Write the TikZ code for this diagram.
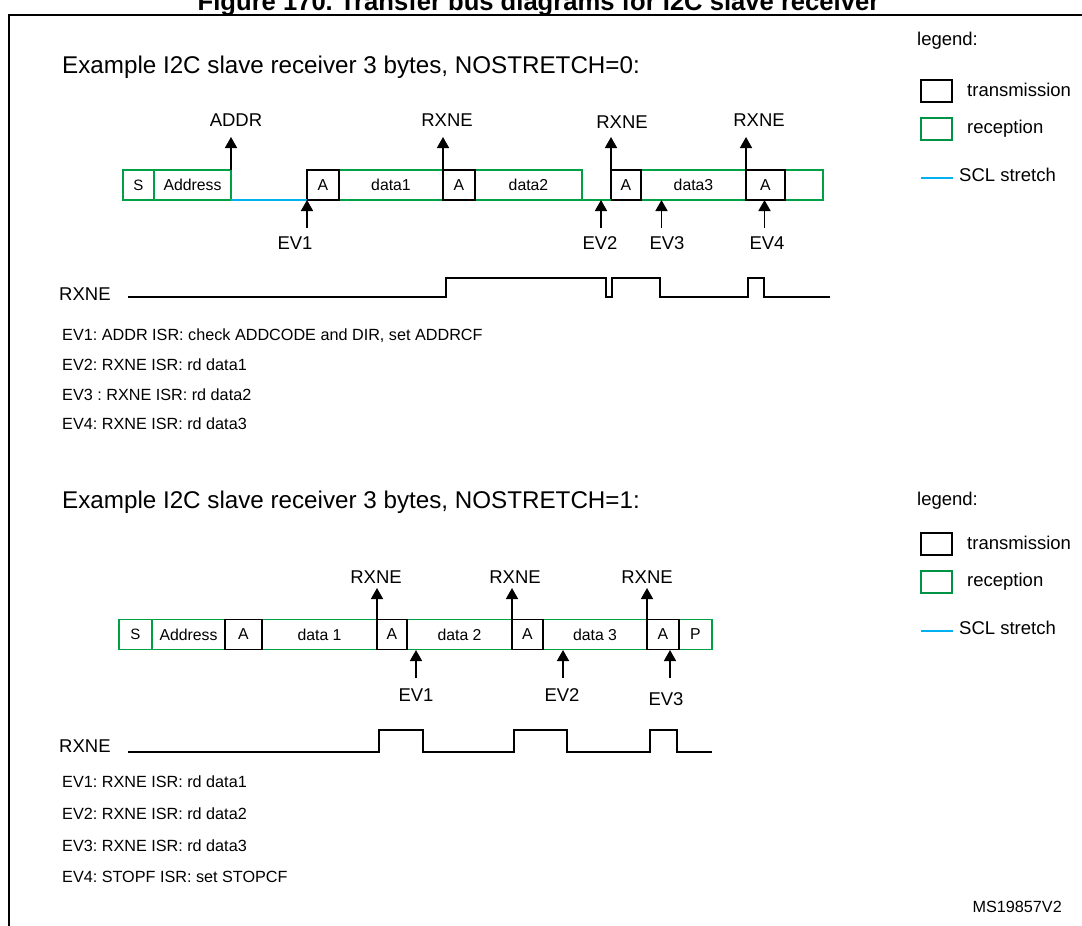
\documentclass[tikz,border=0pt]{standalone}
\usepackage{fontspec}
\setmainfont{Liberation Sans}
\usetikzlibrary{arrows.meta}
\frenchspacing
\definecolor{rxgreen}{RGB}{0,160,70}
\definecolor{lgreen}{RGB}{0,146,69}
\definecolor{sclblue}{RGB}{0,176,240}
\newcommand{\fbig}{\fontsize{24.2}{29}\selectfont}
\newcommand{\fmid}{\fontsize{18.5}{22}\selectfont}
\newcommand{\fbus}{\fontsize{15.8}{19}\selectfont}
\newcommand{\fsmall}{\fontsize{16.2}{19}\selectfont}
\tikzset{
  rbox/.style={draw=rxgreen, line width=1.6pt, rectangle, inner sep=0pt, outer sep=0pt, minimum height=30pt, font=\fbus},
  tbox/.style={draw=black, line width=1.6pt, rectangle, inner sep=0pt, outer sep=0pt, minimum height=30pt, font=\fbus},
  lbl/.style={inner sep=0pt, font=\fmid},
  txt/.style={inner sep=0pt, anchor=base west, font=\fmid},
  arr/.style={line width=1.6pt, -{Triangle[width=12pt,length=11pt]}},
  wave/.style={line width=2.4pt, line join=miter},
  stretch/.style={draw=sclblue, line width=2pt},
}
\begin{document}
\begin{tikzpicture}[x=1pt,y=-1pt]
\useasboundingbox (0,0) rectangle (1082,926);
% frame and title
\node[inner sep=0pt, anchor=base, font=\fontsize{25.6}{30}\selectfont\bfseries] (title) at (538.5,10.5) {Figure 170. Transfer bus diagrams for I2C slave receiver};
\draw[line width=2pt] (9,926) -- (9,15) -- (1082,15);

% ================= section 1 =================
\node[txt, font=\fbig] (head1) at (62,73) {Example I2C slave receiver 3 bytes, NOSTRETCH=0:};
% legend 1
\node[txt] (leg1) at (917,45) {legend:};
\node[draw=black, line width=2pt, minimum width=31pt, minimum height=22pt, inner sep=0pt] (lt1) at (936,91.3) {};
\node[txt] (ltt1) at (967,96) {transmission};
\node[draw=lgreen, line width=2pt, minimum width=31pt, minimum height=22pt, inner sep=0pt] (lr1) at (936,128.8) {};
\node[txt] (lrt1) at (967,133.3) {reception};
\coordinate (ls1a) at (921,177.7);
\coordinate (ls1b) at (953,177.7);
\draw[stretch] (ls1a) -- (ls1b);
\node[txt] (lst1) at (959,181.7) {SCL stretch};

% bus 1
\node[rbox, minimum width=31pt] (b1s) at (138.5,185) {\fontsize{15}{17}\selectfont S};
\node[rbox, minimum width=77pt] (b1addr) at (192.5,185) {Address};
\node[rbox, minimum width=104pt] (b1d1) at (391,185) {data1};
\node[rbox, minimum width=107pt] (b1d2) at (528.5,185) {data2};
\node[rbox, minimum width=105pt] (b1d3) at (693.5,185) {data3};
\node[rbox, minimum width=38pt] (b1end) at (804,185) {};
\node[tbox, minimum width=32pt] (b1a1) at (323,185) {A};
\node[tbox, minimum width=32pt] (b1a2) at (459,185) {A};
\node[tbox, minimum width=30pt] (b1a3) at (626,185) {A};
\node[tbox, minimum width=39pt] (b1a4) at (765.5,185) {A};
\draw[stretch] (b1addr.south east) -- (b1a1.south west);
\draw[draw=rxgreen, line width=1.6pt] (b1d2.south east) -- (b1a3.south west);

% upward flags bus 1
\node[lbl] (f1addr) at (236,120) {ADDR};
\node[lbl] (f1r1) at (447,120) {RXNE};
\node[lbl] (f1r2) at (622,122) {RXNE};
\node[lbl] (f1r3) at (759,120) {RXNE};
\coordinate (t1addr) at (231,137);
\coordinate (t1r1) at (443,137);
\coordinate (t1r2) at (611,137);
\coordinate (t1r3) at (746,137);
\draw[arr] (b1addr.north east) -- (t1addr);
\draw[arr] (b1a2.north west) -- (t1r1);
\draw[arr] (b1a3.north west) -- (t1r2);
\draw[arr] (b1a4.north west) -- (t1r3);

% events bus 1
\coordinate (e1t) at (307,228);
\coordinate (e2t) at (601,228);
\coordinate (e2h) at (601,200);
\coordinate (e3t) at (661.5,228);
\coordinate (e3h) at (661.5,200);
\coordinate (e4t) at (764.5,228);
\coordinate (e4h) at (764.5,200);
\draw[arr] (e1t) -- (b1a1.south west);
\draw[arr] (e2t) -- (e2h);
\draw[arr] (e3t) -- (e3h);
\draw[arr] (e4t) -- (e4h);
\node[lbl] (ev1a) at (295,243.5) {EV1};
\node[lbl] (ev2a) at (600,243.5) {EV2};
\node[lbl] (ev3a) at (667,243.5) {EV3};
\node[lbl] (ev4a) at (767,243.5) {EV4};

% waveform 1
\node[lbl, anchor=west] (w1l) at (59,294) {RXNE};
\draw[wave] (128,297) -- (446,297) -- (446,278) -- (606,278) -- (606,297) -- (612,297) -- (612,278) -- (660,278) -- (660,297) -- (748,297) -- (748,278) -- (764,278) -- (764,297) -- (830,297);

% event list 1
\node[txt, font=\fsmall] (l1a) at (62,340) {EV1: ADDR ISR: check ADDCODE and DIR, set ADDRCF};
\node[txt, font=\fsmall] (l1b) at (62,370) {EV2: RXNE ISR: rd data1};
\node[txt, font=\fsmall] (l1c) at (62,400) {EV3 : RXNE ISR: rd data2};
\node[txt, font=\fsmall] (l1d) at (62,429) {EV4: RXNE ISR: rd data3};

% ================= section 2 =================
\node[txt, font=\fbig] (head2) at (62,508) {Example I2C slave receiver 3 bytes, NOSTRETCH=1:};
\node[txt] (leg2) at (917,505) {legend:};
\node[draw=black, line width=2pt, minimum width=31pt, minimum height=22pt, inner sep=0pt] (lt2) at (936,544.3) {};
\node[txt] (ltt2) at (967,549) {transmission};
\node[draw=lgreen, line width=2pt, minimum width=31pt, minimum height=22pt, inner sep=0pt] (lr2) at (936,581.8) {};
\node[txt] (lrt2) at (967,586.3) {reception};
\coordinate (ls2a) at (921,630.7);
\coordinate (ls2b) at (953,630.7);
\draw[stretch] (ls2a) -- (ls2b);
\node[txt] (lst2) at (959,634.7) {SCL stretch};

% bus 2
\node[rbox, minimum width=33pt] (b2s) at (135.5,634.5) {\fontsize{15}{17}\selectfont S};
\node[rbox, minimum width=73pt] (b2addr) at (188.5,634.5) {Address};
\node[rbox, minimum width=115pt] (b2d1) at (319.5,634.5) {data 1};
\node[rbox, minimum width=105pt] (b2d2) at (459.5,634.5) {data 2};
\node[rbox, minimum width=104pt] (b2d3) at (595,634.5) {data 3};
\node[rbox, minimum width=33pt] (b2p) at (695.5,634.5) {P};
\node[tbox, minimum width=37pt] (b2a1) at (243.5,634.5) {A};
\node[tbox, minimum width=30pt] (b2a2) at (392,634.5) {A};
\node[tbox, minimum width=31pt] (b2a3) at (527.5,634.5) {A};
\node[tbox, minimum width=32pt] (b2a4) at (663,634.5) {A};

\node[lbl] (f2r1) at (376,577) {RXNE};
\node[lbl] (f2r2) at (515,577) {RXNE};
\node[lbl] (f2r3) at (647,577) {RXNE};
\coordinate (t2r1) at (377,588);
\coordinate (t2r2) at (512,588);
\coordinate (t2r3) at (647,588);
\draw[arr] (b2a2.north west) -- (t2r1);
\draw[arr] (b2a3.north west) -- (t2r2);
\draw[arr] (b2a4.north west) -- (t2r3);

\coordinate (g1t) at (416,678);
\coordinate (g1h) at (416,650);
\coordinate (g2t) at (563,678);
\coordinate (g2h) at (563,650);
\coordinate (g3t) at (670,678);
\coordinate (g3h) at (670,650);
\draw[arr] (g1t) -- (g1h);
\draw[arr] (g2t) -- (g2h);
\draw[arr] (g3t) -- (g3h);
\node[lbl] (ev1b) at (416,695) {EV1};
\node[lbl] (ev2b) at (562,695) {EV2};
\node[lbl] (ev3b) at (666,699) {EV3};

% waveform 2
\node[lbl, anchor=west] (w2l) at (59,746) {RXNE};
\draw[wave] (128,752) -- (379,752) -- (379,730) -- (423,730) -- (423,752) -- (514,752) -- (514,730) -- (567,730) -- (567,752) -- (650,752) -- (650,730) -- (677,730) -- (677,752) -- (712,752);

% event list 2
\node[txt, font=\fsmall] (l2a) at (62,787) {EV1: RXNE ISR: rd data1};
\node[txt, font=\fsmall] (l2b) at (62,819) {EV2: RXNE ISR: rd data2};
\node[txt, font=\fsmall] (l2c) at (62,851) {EV3: RXNE ISR: rd data3};
\node[txt, font=\fsmall] (l2d) at (62,882) {EV4: STOPF ISR: set STOPCF};

\node[inner sep=0pt, anchor=east, font=\fsmall] (ms) at (1062,907) {MS19857V2};
\end{tikzpicture}
\end{document}
